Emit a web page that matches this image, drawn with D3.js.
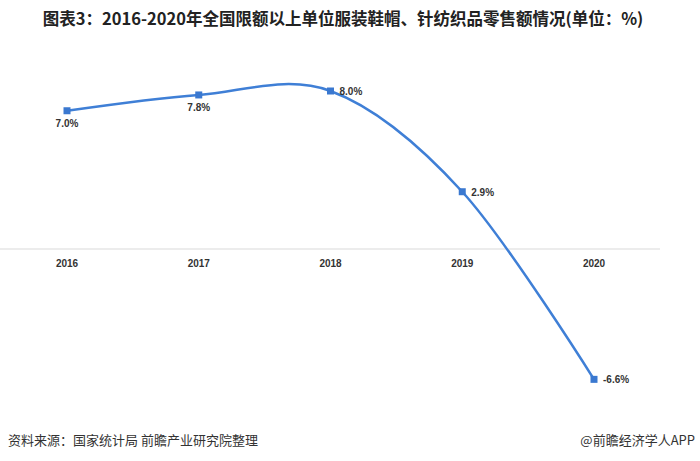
<!DOCTYPE html>
<html><head><meta charset="utf-8">
<script src="https://cdn.jsdelivr.net/npm/d3@7"></script>
<style>body{margin:0;background:#fff}svg{display:block}</style>
</head><body>
<script>
const years = ["2016","2017","2018","2019","2020"];
const values = [7.0, 7.8, 8.0, 2.9, -6.6];
const labels = ["7.0%","7.8%","8.0%","2.9%","-6.6%"];
const title = "图表3：2016-2020年全国限额以上单位服装鞋帽、针纺织品零售额情况(单位：%)";
const source = "资料来源：国家统计局 前瞻产业研究院整理";
const credit = "@前瞻经济学人APP";

const W = 700, H = 461;
const svg = d3.select("body").append("svg").attr("width", W).attr("height", H);
const font = "'Noto Sans CJK SC', 'Noto Sans', sans-serif";

const x = d3.scalePoint().domain(years).range([67, 594]);
const y = d3.scaleLinear().domain([0, 8]).range([249, 91]);

svg.append("text").attr("x", 343).attr("y", 25).attr("text-anchor", "middle")
  .attr("font-family", font).attr("font-weight", "bold").attr("font-size", 16.5)
  .attr("fill", "#222").text(title);

// zero axis line
svg.append("line").attr("x1", 0).attr("x2", 660).attr("y1", y(0)).attr("y2", y(0))
  .attr("stroke", "#d9d9d9").attr("stroke-width", 1);

svg.selectAll(".yr").data(years).enter().append("text")
  .attr("x", d => x(d)).attr("y", 267).attr("text-anchor", "middle")
  .attr("font-family", "'Liberation Sans', Arial, sans-serif").attr("font-weight", "bold")
  .attr("font-size", 10).attr("fill", "#333").text(d => d);

const pts = years.map((d, i) => [x(d), y(values[i])]);
svg.append("path").attr("d", d3.line().curve(d3.curveCatmullRom.alpha(0))(pts))
  .attr("fill", "none").attr("stroke", "#3f7fd6").attr("stroke-width", 2.5);

svg.selectAll(".pt").data(pts).enter().append("rect")
  .attr("x", d => d[0] - 3.5).attr("y", d => d[1] - 3.5).attr("width", 7).attr("height", 7)
  .attr("fill", "#3a78d0");

const lblPos = [[0, 16, "middle"], [0, 16, "middle"], [9, 4, "start"], [9, 4, "start"], [9, 4, "start"]];
svg.selectAll(".lbl").data(pts).enter().append("text")
  .attr("x", (d, i) => d[0] + lblPos[i][0]).attr("y", (d, i) => d[1] + lblPos[i][1])
  .attr("text-anchor", (d, i) => lblPos[i][2])
  .attr("font-family", "'Liberation Sans', Arial, sans-serif").attr("font-weight", "bold")
  .attr("font-size", 10).attr("fill", "#333").text((d, i) => labels[i]);

svg.append("text").attr("x", 8).attr("y", 445).attr("font-family", font)
  .attr("font-size", 13).attr("fill", "#333").text(source);
svg.append("text").attr("x", 695).attr("y", 445).attr("text-anchor", "end").attr("font-family", font)
  .attr("font-size", 13).attr("fill", "#333").text(credit);
</script>
</body></html>
